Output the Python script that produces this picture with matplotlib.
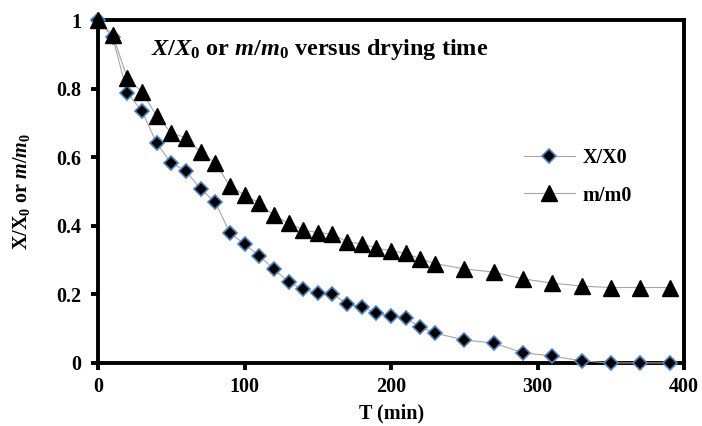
import matplotlib
matplotlib.use("Agg")
import matplotlib.pyplot as plt

plt.rcParams['font.family'] = 'Liberation Serif'
plt.rcParams['font.weight'] = 'bold'
plt.rcParams['mathtext.fontset'] = 'custom'
plt.rcParams['mathtext.rm'] = 'Liberation Serif:bold'
plt.rcParams['mathtext.it'] = 'Liberation Serif:bold:italic'
plt.rcParams['mathtext.bf'] = 'Liberation Serif:bold'

# drying time (min)
time = [0, 10, 20, 30, 40, 50, 60, 70, 80, 90, 100, 110, 120, 130, 140, 150,
        160, 170, 180, 190, 200, 210, 220, 230, 250, 270, 290, 310, 330, 350,
        370, 390]
# moisture ratio X/X0
x_ratio = [1.0, 0.95, 0.787, 0.735, 0.641, 0.583, 0.56, 0.507, 0.469, 0.379,
           0.347, 0.312, 0.274, 0.236, 0.215, 0.204, 0.201, 0.172, 0.163, 0.146,
           0.137, 0.13, 0.105, 0.087, 0.067, 0.058, 0.03, 0.02, 0.006, 0.0,
           0.0, 0.0]
# mass ratio m/m0
m_ratio = [1.0, 0.956, 0.831, 0.79, 0.72, 0.671, 0.656, 0.615, 0.583, 0.516,
           0.49, 0.466, 0.43, 0.408, 0.388, 0.38, 0.376, 0.353, 0.347, 0.335,
           0.327, 0.32, 0.303, 0.29, 0.274, 0.265, 0.245, 0.233, 0.224, 0.22,
           0.22, 0.22]

fig = plt.figure(figsize=(7.02, 4.26), dpi=100)
ax = fig.add_axes([0.1396, 0.148, 0.835, 0.805])

ax.plot(time, x_ratio, color='#a6a6a6', lw=0.8, marker='D', markersize=7,
        markerfacecolor='black', markeredgecolor='#4f81bd', markeredgewidth=1.2,
        label='X/X0', clip_on=False, zorder=3)
ax.plot(time, m_ratio, color='#a6a6a6', lw=0.8, marker='^', markersize=11,
        markerfacecolor='black', markeredgecolor='black',
        label='m/m0', clip_on=False, zorder=3)

ax.set_xlim(0, 400)
ax.set_ylim(0, 1)
ax.set_xticks([0, 100, 200, 300, 400])
ax.set_yticks([0, 0.2, 0.4, 0.6, 0.8, 1])
ax.set_yticklabels(['0', '0.2', '0.4', '0.6', '0.8', '1'])

for s in ax.spines.values():
    s.set_linewidth(2.8)
ax.tick_params(direction='out', length=5, width=2.8, labelsize=14.5)
ax.tick_params(axis='y', pad=7)
ax.tick_params(axis='x', pad=5)

ax.set_xlabel('T (min)', fontsize=14.5, fontweight='bold', labelpad=5)
ax.set_ylabel(r'X/X$_0$ or $\mathit{m/m}_0$', fontsize=14.5, fontweight='bold')
ax.yaxis.set_label_coords(-0.112, 0.5)

ax.text(0.09, 0.915, r'$\mathit{X/X}_0$ or $\mathit{m/m}_0$ versus drying time',
        transform=ax.transAxes, fontsize=17.5, fontweight='bold', va='center')

ax.legend(loc='upper left', bbox_to_anchor=(0.71, 0.655), frameon=False,
          fontsize=14.5, handlelength=2.5, handletextpad=0.4,
          labelspacing=0.85, borderpad=0)

fig.savefig('out.png', dpi=100)
